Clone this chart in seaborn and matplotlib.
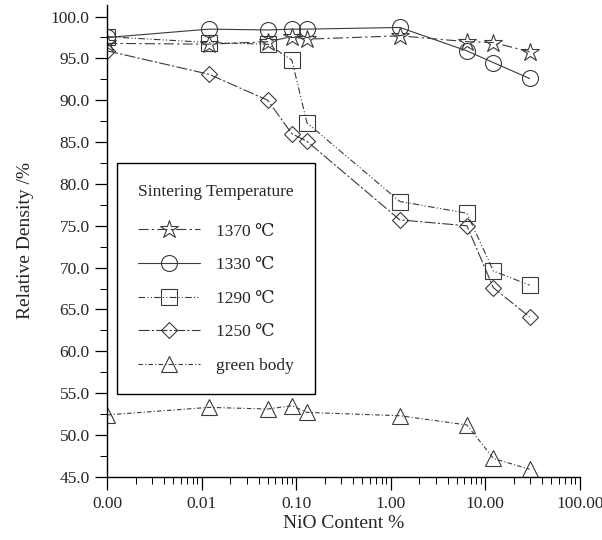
import numpy as np
import pandas as pd
import seaborn as sns
import matplotlib.pyplot as plt
from matplotlib.ticker import LogLocator, MultipleLocator, NullFormatter

# NiO content (%) of the samples, 0 = undoped
nio = [0, 0.012, 0.05, 0.09, 0.13, 1.25, 6.4, 12.2, 29.5]

# relative density (%) for each sintering temperature
d1370 = [96.8, 96.7, 97.0, 97.6, 97.3, 97.7, 97.0, 96.9, 95.8]
d1330 = [97.5, 98.5, 98.4, 98.5, 98.5, 98.7, 95.9, 94.5, 92.6]
d1290 = [97.6, 96.9, 96.7, 94.8, 87.3, 77.9, 76.5, 69.6, 67.9]
d1250 = [95.9, 93.1, 90.0, 86.0, 85.1, 75.7, 75.0, 67.6, 64.1]
green = [52.4, 53.3, 53.1, 53.5, 52.7, 52.3, 51.2, 47.2, 45.9]

labels = ['1370 ℃', '1330 ℃', '1290 ℃', '1250 ℃', 'green body']
xtick_vals = [0.001, 0.01, 0.1, 1, 10, 100]
xtick_labels = ['0.00', '0.01', '0.10', '1.00', '10.00', '100.00']

sns.set_style('ticks')
plt.rcParams['font.family'] = ['Liberation Serif', 'DejaVu Serif', 'Noto Sans CJK SC']

df = pd.DataFrame({'nio': nio, 'd1370': d1370, 'd1330': d1330,
                   'd1290': d1290, 'd1250': d1250, 'green': green})
# undoped sample sits on the "0.00" position of the log axis
df['x'] = df['nio'].replace(0, 0.001)

fig = plt.figure(figsize=(6.02, 5.40), dpi=100)
ax = fig.add_axes([0.178, 0.117, 0.785, 0.874])

styles = [
    ('d1370', '*', (0, (9, 3, 2, 3)), 13.5),
    ('d1330', 'o', '-', 11.5),
    ('d1290', 's', (0, (6, 2, 1, 2, 1, 2)), 11),
    ('d1250', 'D', (0, (10, 2, 2, 2)), 8),
    ('green', '^', (0, (4, 2, 1, 2)), 11),
]
col = '#3a3a3a'
for (name, mk, ls, ms), lab in zip(styles, labels):
    sns.lineplot(data=df, x='x', y=name, ax=ax, marker=mk, linestyle=ls,
                 color=col, linewidth=0.8, markersize=ms,
                 markerfacecolor='none', markeredgecolor=col,
                 markeredgewidth=0.8, label=lab)

ax.set_xscale('log')
ax.set_xlim(0.001, 100)
ax.set_xticks(xtick_vals)
ax.set_xticklabels(xtick_labels)
ax.xaxis.set_minor_locator(LogLocator(base=10, subs=np.arange(2, 10)))
ax.xaxis.set_minor_formatter(NullFormatter())

ax.set_ylim(45, 101.4)
ax.set_yticks(np.arange(45, 100.1, 5))
ax.set_yticklabels([f'{v:.1f}' for v in np.arange(45, 100.1, 5)])
ax.yaxis.set_minor_locator(MultipleLocator(2.5))

ax.tick_params(which='major', length=9, width=0.9, labelsize=12.5, color='black')
ax.tick_params(which='minor', length=5, width=0.7, color='black')
ax.tick_params(axis='x', pad=5)
sns.despine(ax=ax)
for s in ['left', 'bottom']:
    ax.spines[s].set_color('black')
    ax.spines[s].set_linewidth(1.0)

ax.set_xlabel('NiO Content %', fontsize=14, labelpad=2)
ax.set_ylabel('Relative Density /%', fontsize=14, labelpad=12)

leg = ax.legend(title='Sintering Temperature', loc='upper left',
                bbox_to_anchor=(0.021, 0.665), borderaxespad=0,
                fontsize=12.5, title_fontsize=12.5, handlelength=3.6,
                handletextpad=0.9, labelspacing=1.0, borderpad=1.2,
                fancybox=False, edgecolor='black', framealpha=1,
                alignment='left')
leg.get_frame().set_linewidth(1.0)
# a little more room between the title and the first entry
leg._legend_box.sep = 17

fig.savefig('out.png', dpi=100)
